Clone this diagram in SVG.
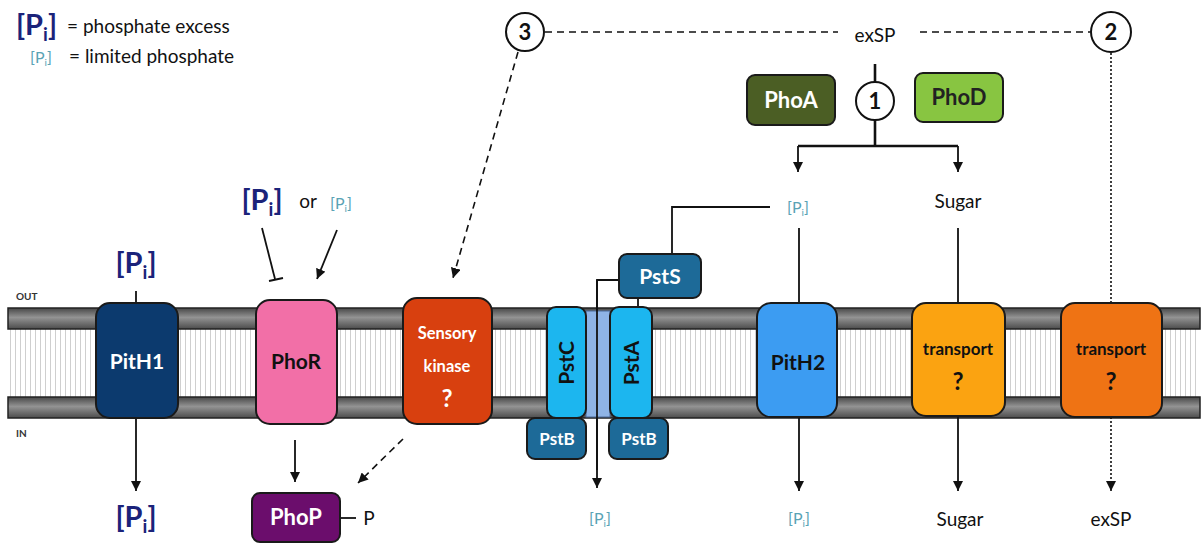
<svg xmlns="http://www.w3.org/2000/svg" width="1204" height="544" viewBox="0 0 1204 544">
<defs>
<style>
text{font-family:Lato,"Open Sans","Liberation Sans",sans-serif;}
.lbl{font-size:19px;fill:#111;}
.big{font-size:29px;fill:#1b237a;font-weight:bold;}
.sm{font-size:16px;fill:#5aa3b5;}
.pn{font-weight:bold;text-anchor:middle;}
.w{fill:#fff;}
.k{fill:#111;}
.box{stroke:#1a1a1a;stroke-width:2;}
.ln{stroke:#111;stroke-width:1.8;fill:none;}
.thick{stroke:#111;stroke-width:2.6;fill:none;}
.dash{stroke:#111;stroke-width:1.6;fill:none;stroke-dasharray:7 5;}
.dot{stroke:#111;stroke-width:1.6;fill:none;stroke-dasharray:2 2;}
.circ{fill:#fff;stroke:#111;stroke-width:2;}
</style>
<marker id="ah" viewBox="0 0 10 10" refX="10" refY="5" markerWidth="10" markerHeight="10" markerUnits="userSpaceOnUse" orient="auto">
<path d="M0,0 L10,5 L0,10 z" fill="#111"/>
</marker>
<linearGradient id="tube" x1="0" y1="0" x2="0" y2="1">
<stop offset="0" stop-color="#474747"/>
<stop offset="0.45" stop-color="#939393"/>
<stop offset="1" stop-color="#4c4c4c"/>
</linearGradient>
<pattern id="lip" x="0" y="0" width="5" height="10" patternUnits="userSpaceOnUse">
<rect width="5" height="10" fill="#fff"/>
<rect x="0" width="1" height="10" fill="#cfcfcf"/>
</pattern>
</defs>

<g id="legend">
<text x="16" y="35" class="big">[P<tspan font-size="19" dy="6">i</tspan><tspan dy="-6">]</tspan></text>
<text x="67" y="33" class="lbl">= phosphate excess</text>
<text x="30" y="63" class="sm">[P<tspan font-size="10" dy="3">i</tspan><tspan dy="-3">]</tspan></text>
<text x="69" y="63" class="lbl">= limited phosphate</text>
</g>

<g id="membrane">
<rect x="8" y="329" width="1192" height="69" fill="url(#lip)"/>
<rect x="8" y="308" width="1192" height="21" fill="url(#tube)" stroke="#222" stroke-width="1.5"/>
<rect x="8" y="397" width="1192" height="21" fill="url(#tube)" stroke="#222" stroke-width="1.5"/>
<text x="16" y="300" font-size="10" font-weight="bold" fill="#333">OUT</text>
<text x="16" y="437" font-size="10" font-weight="bold" fill="#333">IN</text>
</g>

<g id="connectors">
<line x1="545" y1="32" x2="838" y2="32" class="dash"/>
<line x1="920" y1="32" x2="1090" y2="32" class="dash"/>
<line x1="518" y1="52" x2="453" y2="278" class="dash" marker-end="url(#ah)"/>
<line x1="1111" y1="53" x2="1111" y2="491" class="dot" marker-end="url(#ah)"/>
<line x1="875" y1="64" x2="875" y2="82" class="thick"/>
<line x1="875" y1="120" x2="875" y2="146" class="thick"/>
<line x1="798" y1="146" x2="958" y2="146" class="thick"/>
<line x1="798" y1="146" x2="798" y2="172" class="ln" marker-end="url(#ah)"/>
<line x1="958" y1="146" x2="958" y2="172" class="ln" marker-end="url(#ah)"/>
<line x1="136" y1="291" x2="136" y2="303" class="ln"/>
<line x1="136" y1="418" x2="136" y2="491" class="ln" marker-end="url(#ah)"/>
<line x1="262" y1="228" x2="275" y2="279" class="ln"/>
<line x1="269" y1="281" x2="283" y2="278" class="ln"/>
<line x1="337" y1="230" x2="317" y2="279" class="ln" marker-end="url(#ah)"/>
<line x1="295" y1="440" x2="295" y2="482" class="ln" marker-end="url(#ah)"/>
<line x1="403" y1="439" x2="358" y2="483" class="dash" marker-end="url(#ah)"/>
<line x1="340" y1="518" x2="356" y2="518" class="ln"/>
<polyline points="672,255 672,207 770,207" class="ln"/>
<polyline points="619,280 597,280 597,488" class="ln" marker-end="url(#ah)"/>
<line x1="638" y1="298" x2="638" y2="308" class="ln"/>
<line x1="799" y1="228" x2="799" y2="303" class="ln"/>
<line x1="799" y1="417" x2="799" y2="491" class="ln" marker-end="url(#ah)"/>
<line x1="958" y1="228" x2="958" y2="303" class="ln"/>
<line x1="958" y1="416" x2="958" y2="491" class="ln" marker-end="url(#ah)"/>
</g>

<g id="labels">
<text x="136" y="273" class="big" text-anchor="middle">[P<tspan font-size="19" dy="6">i</tspan><tspan dy="-6">]</tspan></text>
<text x="136" y="527" class="big" text-anchor="middle">[P<tspan font-size="19" dy="6">i</tspan><tspan dy="-6">]</tspan></text>
<text x="262" y="210" class="big" text-anchor="middle">[P<tspan font-size="19" dy="6">i</tspan><tspan dy="-6">]</tspan></text>
<text x="308" y="208" class="lbl" text-anchor="middle" font-size="18">or</text>
<text x="341" y="209" class="sm" text-anchor="middle">[P<tspan font-size="10" dy="3">i</tspan><tspan dy="-3">]</tspan></text>
<text x="875" y="42" class="lbl" text-anchor="middle" font-size="20">exSP</text>
<text x="798" y="213" class="sm" text-anchor="middle">[P<tspan font-size="10" dy="3">i</tspan><tspan dy="-3">]</tspan></text>
<text x="958" y="208" class="lbl" text-anchor="middle">Sugar</text>
<text x="369" y="525" class="lbl" text-anchor="middle" font-size="18">P</text>
<text x="600" y="524" class="sm" text-anchor="middle">[P<tspan font-size="10" dy="3">i</tspan><tspan dy="-3">]</tspan></text>
<text x="799" y="524" class="sm" text-anchor="middle">[P<tspan font-size="10" dy="3">i</tspan><tspan dy="-3">]</tspan></text>
<text x="960" y="526" class="lbl" text-anchor="middle">Sugar</text>
<text x="1111" y="526" class="lbl" text-anchor="middle" font-size="19">exSP</text>
</g>

<g id="circle3"><circle cx="525" cy="32" r="19" class="circ"/><text x="525" y="40" class="pn k" font-size="22">3</text></g>
<g id="circle2"><circle cx="1111" cy="32" r="20" class="circ"/><text x="1111" y="40" class="pn k" font-size="22">2</text></g>
<g id="circle1"><circle cx="875" cy="101" r="19" class="circ"/><text x="875" y="109" class="pn k" font-size="22">1</text></g>

<g id="PhoA"><rect x="747" y="75" width="88" height="50" rx="8" fill="#4b5e24" class="box"/><text x="791" y="108" class="pn w" font-size="22">PhoA</text></g>
<g id="PhoD"><rect x="915" y="73" width="88" height="49" rx="8" fill="#88c541" class="box"/><text x="959" y="105" class="pn" fill="#222" font-size="22">PhoD</text></g>

<g id="PitH1"><rect x="96" y="303" width="82" height="115" rx="14" fill="#0c3a6e" class="box"/><text x="137" y="369" class="pn w" font-size="21">PitH1</text></g>
<g id="PhoR"><rect x="256" y="300" width="81" height="124" rx="14" fill="#f26fa7" class="box"/><text x="296" y="369" class="pn k" font-size="21">PhoR</text></g>
<g id="SensoryKinase"><rect x="403" y="298" width="89" height="126" rx="14" fill="#d8400f" class="box"/>
<text x="447" y="339" class="pn w" font-size="16.5">Sensory</text>
<text x="447" y="372" class="pn w" font-size="16.5">kinase</text>
<text x="447" y="407" class="pn w" font-size="24">?</text></g>

<g id="PstChannel"><rect x="586" y="311" width="24" height="106" fill="#8fb4e6" stroke="#4a6a9a" stroke-width="1"/></g>
<g id="PstC"><rect x="547" y="307" width="39" height="111" rx="9" fill="#1cb6ef" class="box"/><text transform="translate(574,363) rotate(-90)" class="pn k" font-size="21">PstC</text></g>
<g id="PstA"><rect x="610" y="307" width="42" height="111" rx="9" fill="#1cb6ef" class="box"/><text transform="translate(639,363) rotate(-90)" class="pn k" font-size="21">PstA</text></g>
<g id="PstS"><rect x="619" y="254" width="82" height="44" rx="8" fill="#1d6a98" class="box"/><text x="660" y="284" class="pn w" font-size="21">PstS</text></g>
<g id="PstB1"><rect x="527" y="418" width="59" height="41" rx="8" fill="#1d6a98" class="box"/><text x="557" y="445" class="pn w" font-size="17">PstB</text></g>
<g id="PstB2"><rect x="609" y="418" width="59" height="41" rx="8" fill="#1d6a98" class="box"/><text x="639" y="445" class="pn w" font-size="17">PstB</text></g>
<g id="PstLine"><line x1="597" y1="280" x2="597" y2="470" class="ln"/></g>

<g id="PitH2"><rect x="757" y="303" width="80" height="114" rx="14" fill="#3c9cf2" class="box"/><text x="798" y="370" class="pn k" font-size="21">PitH2</text></g>
<g id="SugarTransport"><rect x="912" y="303" width="93" height="113" rx="14" fill="#fba311" class="box"/>
<text x="958" y="355" class="pn k" font-size="17">transport</text>
<text x="958" y="390" class="pn k" font-size="24">?</text></g>
<g id="exSPTransport"><rect x="1061" y="303" width="101" height="114" rx="14" fill="#ef7314" class="box"/>
<text x="1111" y="355" class="pn k" font-size="17">transport</text>
<text x="1111" y="390" class="pn k" font-size="24">?</text></g>

<g id="PhoP"><rect x="252" y="493" width="88" height="49" rx="8" fill="#6b0d6c" class="box"/><text x="296" y="525" class="pn w" font-size="22">PhoP</text></g>
</svg>
